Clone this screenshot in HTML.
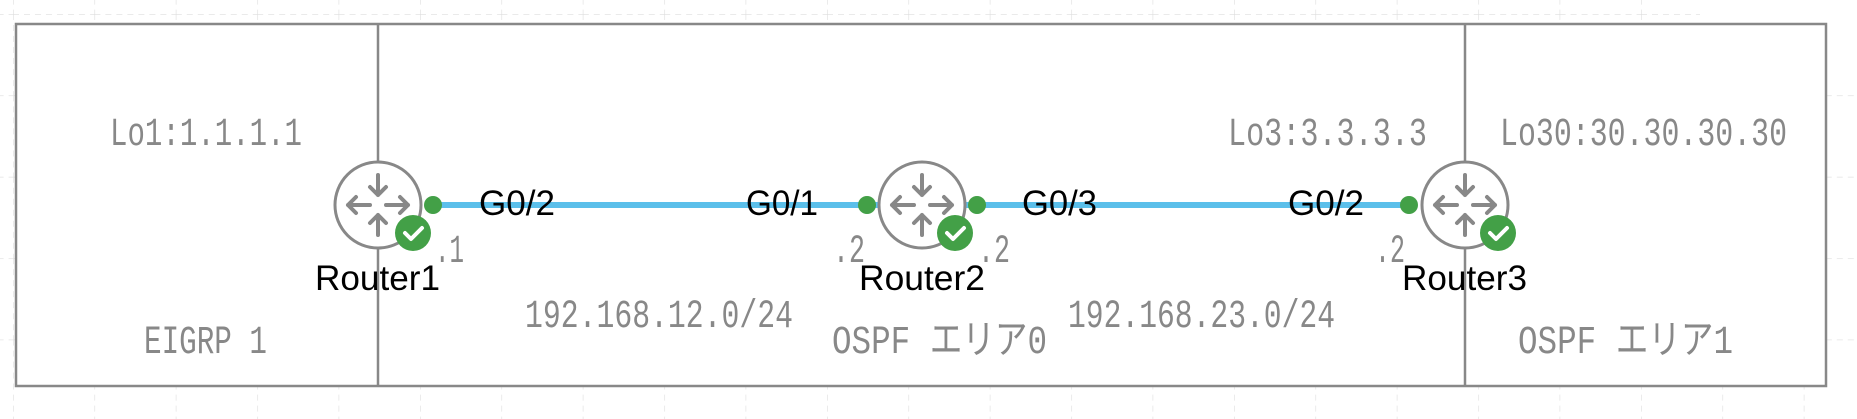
<!DOCTYPE html>
<html><head><meta charset="utf-8"><style>
html,body{margin:0;padding:0;background:#fff;}
svg{display:block;}
.m{font-family:"Liberation Mono","Noto Sans CJK JP",monospace;font-size:40px;fill:#888;}
.a{font-family:"Liberation Sans",Arial,sans-serif;font-size:35px;fill:#000;}
</style></head><body>
<svg width="1857" height="419" viewBox="0 0 1857 419" xmlns="http://www.w3.org/2000/svg">
<defs>
<pattern id="g" x="13" y="14" width="81.4" height="81.4" patternUnits="userSpaceOnUse">
<path d="M0 0H81.4M0 0V81.4" stroke="#ddd" stroke-width="1.2" stroke-dasharray="6 5" fill="none"/>
</pattern>
<g id="r">
<circle r="43" fill="#fff" stroke="#888" stroke-width="3"/>
<g stroke="#888" stroke-width="4" fill="none" stroke-linecap="round" stroke-linejoin="round">
<path d="M0 -30V-10M-8 -18L0 -10L8 -18"/>
<path d="M0 30V10M-8 18L0 10L8 18"/>
<path d="M-8 0H-30M-22 -8L-30 0L-22 8"/>
<path d="M8 0H30M22 -8L30 0L22 8"/>
</g>
</g>
<g id="c">
<circle r="18" fill="#43a047"/>
<path d="M-8 0L-2 6L9 -5" stroke="#fff" stroke-width="4" fill="none" stroke-linecap="round" stroke-linejoin="round"/>
</g>
</defs>
<rect x="0" y="0" width="1700" height="419" fill="url(#g)"/>
<rect x="1700" y="24" width="157" height="395" fill="url(#g)"/>
<rect x="16" y="24" width="1810" height="362" fill="#fff" stroke="#888" stroke-width="2.5"/>
<line x1="378" y1="24" x2="378" y2="386" stroke="#888" stroke-width="2.5"/>
<line x1="1465" y1="24" x2="1465" y2="386" stroke="#888" stroke-width="2.5"/>
<line x1="433" y1="205" x2="1409" y2="205" stroke="#5bbfea" stroke-width="6"/>
<use href="#r" x="378" y="205"/><use href="#r" x="922" y="205"/><use href="#r" x="1465" y="205"/>
<use href="#c" x="413" y="233"/><use href="#c" x="955" y="233"/><use href="#c" x="1498" y="233"/>
<g fill="#43a047"><circle cx="433" cy="205" r="9"/><circle cx="867" cy="205" r="9"/><circle cx="977" cy="205" r="9"/><circle cx="1409" cy="205" r="9"/></g>
<g class="a">
<text x="479" y="215" textLength="76" lengthAdjust="spacingAndGlyphs">G0/2</text>
<text x="746" y="215" textLength="72" lengthAdjust="spacingAndGlyphs">G0/1</text>
<text x="1022" y="215" textLength="75" lengthAdjust="spacingAndGlyphs">G0/3</text>
<text x="1288" y="215" textLength="76" lengthAdjust="spacingAndGlyphs">G0/2</text>
<text x="315" y="290" textLength="125" lengthAdjust="spacingAndGlyphs">Router1</text>
<text x="859" y="290" textLength="126" lengthAdjust="spacingAndGlyphs">Router2</text>
<text x="1402" y="290" textLength="125" lengthAdjust="spacingAndGlyphs">Router3</text>
</g>
<g class="m">
<text x="110" y="145" textLength="192" lengthAdjust="spacingAndGlyphs">Lo1:1.1.1.1</text>
<text x="1228" y="145" textLength="199" lengthAdjust="spacingAndGlyphs">Lo3:3.3.3.3</text>
<text x="1500" y="145" textLength="287" lengthAdjust="spacingAndGlyphs">Lo30:30.30.30.30</text>
<text x="435" y="262" textLength="29" lengthAdjust="spacingAndGlyphs">.1</text>
<text x="833" y="262" textLength="32" lengthAdjust="spacingAndGlyphs">.2</text>
<text x="978" y="262" textLength="32" lengthAdjust="spacingAndGlyphs">.2</text>
<text x="1375" y="262" textLength="30" lengthAdjust="spacingAndGlyphs">.2</text>
<text x="525" y="327" textLength="268" lengthAdjust="spacingAndGlyphs">192.168.12.0/24</text>
<text x="1068" y="327" textLength="267" lengthAdjust="spacingAndGlyphs">192.168.23.0/24</text>
<text x="144" y="353" textLength="123" lengthAdjust="spacingAndGlyphs">EIGRP 1</text>
<text x="832" y="353" textLength="215" lengthAdjust="spacingAndGlyphs">OSPF エリア0</text>
<text x="1518" y="353" textLength="215" lengthAdjust="spacingAndGlyphs">OSPF エリア1</text>
</g>
</svg>
</body></html>
